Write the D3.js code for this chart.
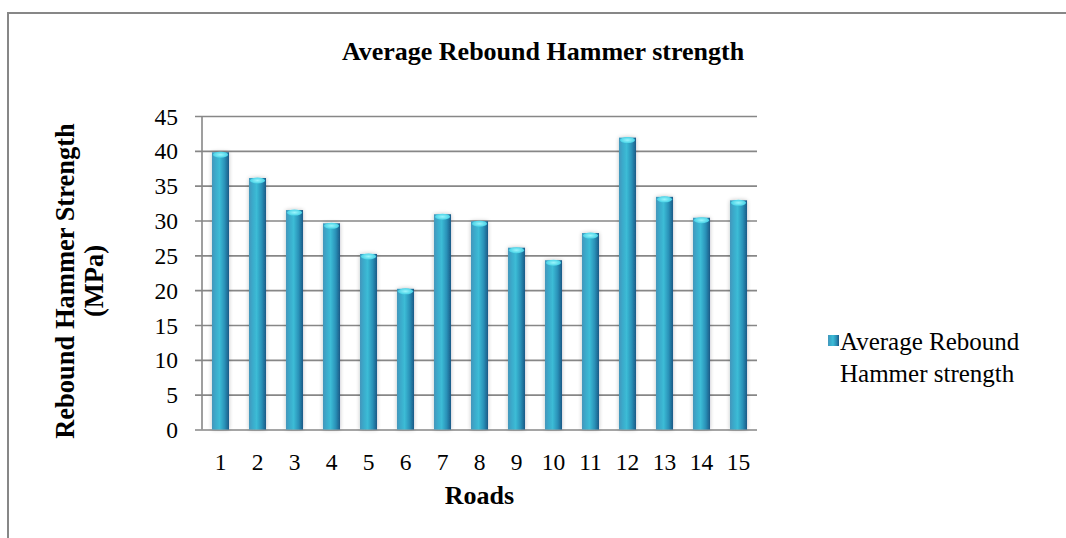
<!DOCTYPE html>
<html><head><meta charset="utf-8">
<script src="https://cdn.jsdelivr.net/npm/d3@7"></script>
<style>
body{margin:0;background:#fff}
svg text{font-family:"Liberation Serif","Times New Roman",serif;fill:#000}
</style>
</head><body>
<svg id="c" width="1066" height="538"></svg>
<script>
const categories = ["1","2","3","4","5","6","7","8","9","10","11","12","13","14","15"];
const values = [39.8,36.1,31.5,29.6,25.2,20.2,30.9,29.9,26.1,24.3,28.2,41.9,33.4,30.4,32.9];
const yTicks = [0,5,10,15,20,25,30,35,40,45];
const seriesName = "Average Rebound Hammer strength";
const chartTitle = "Average Rebound Hammer strength";
const xTitle = "Roads";
const yTitleLines = ["Rebound Hammer Strength","(MPa)"];
const legendLines = ["Average Rebound","Hammer strength"];

const svg = d3.select("#c");
const L = 202, R = 757, T = 116, B = 429.5;

svg.append("path").attr("d","M8,538V13H1066").attr("fill","none").attr("stroke","#878787").attr("stroke-width",2);

const defs = svg.append("defs");
const g1 = defs.append("linearGradient").attr("id","barG").attr("x1","0").attr("x2","1").attr("y1","0").attr("y2","0");
[["0%","#4596bb"],["20%","#3aa9ca"],["45%","#3cbcd6"],["75%","#2a90b7"],["100%","#1a5a86"]].forEach(s=>g1.append("stop").attr("offset",s[0]).attr("stop-color",s[1]));
const g2 = defs.append("radialGradient").attr("id","capG");
[["0%","#9af5fc"],["100%","#48d2e6"]].forEach(s=>g2.append("stop").attr("offset",s[0]).attr("stop-color",s[1]));
const f = defs.append("filter").attr("id","sh").attr("x","-50%").attr("y","-10%").attr("width","200%").attr("height","120%");
f.append("feGaussianBlur").attr("in","SourceAlpha").attr("stdDeviation",2).attr("result","b");
f.append("feComponentTransfer").attr("in","b").attr("result","o2").append("feFuncA").attr("type","linear").attr("slope",0.25);
const fm = f.append("feMerge"); fm.append("feMergeNode").attr("in","o2"); fm.append("feMergeNode").attr("in","SourceGraphic");

const x = d3.scaleBand().domain(categories).range([L,R]).paddingInner(0.54).paddingOuter(0.27);
const y = d3.scaleLinear().domain([0,45]).range([B,T]);

const ya = svg.append("g").attr("transform",`translate(${L},0)`)
  .call(d3.axisLeft(y).tickValues(yTicks).tickSize(-(R-L)).tickPadding(24).tickFormat(d3.format("d")));
ya.select(".domain").remove();
ya.selectAll(".tick line").attr("stroke","#878787").attr("stroke-width",1.6).attr("x1",-7);
ya.selectAll(".tick text").attr("font-size",23.5).attr("font-family","Liberation Serif").attr("fill","#000").attr("dy","0.34em");
svg.append("line").attr("x1",L).attr("x2",L).attr("y1",T).attr("y2",B).attr("stroke","#878787").attr("stroke-width",1.6);

const bars = svg.append("g").attr("filter","url(#sh)");
const bw = x.bandwidth();
bars.selectAll("rect").data(values).join("rect")
  .attr("x",(d,i)=>x(categories[i])).attr("width",bw)
  .attr("y",d=>y(d)).attr("height",d=>B-y(d))
  .attr("fill","url(#barG)");
bars.selectAll("ellipse").data(values).join("ellipse")
  .attr("cx",(d,i)=>x(categories[i])+bw/2).attr("cy",d=>y(d)+2.5)
  .attr("rx",bw/2-1).attr("ry",3).attr("fill","url(#capG)");

const xa = svg.append("g").attr("transform",`translate(0,${B})`).call(d3.axisBottom(x).tickSize(0).tickPadding(24));
xa.select(".domain").remove();
xa.selectAll(".tick text").attr("font-size",23.5).attr("font-family","Liberation Serif").attr("fill","#000").attr("dy","0.71em");

svg.append("text").attr("x",543).attr("y",60).attr("text-anchor","middle").attr("font-weight","bold").attr("font-size",26).text(chartTitle);
svg.append("text").attr("x",(L+R)/2).attr("y",504).attr("text-anchor","middle").attr("font-weight","bold").attr("font-size",26).text(xTitle);
const yt = svg.append("text").attr("transform","translate(74,281) rotate(-90)").attr("text-anchor","middle").attr("font-weight","bold").attr("font-size",26.5);
yt.selectAll("tspan").data(yTitleLines).join("tspan").attr("x",0).attr("dy",(d,i)=>i?"1.1em":0).text(d=>d);

const lg = svg.append("g").attr("transform","translate(828,350)");
lg.append("rect").attr("x",0).attr("y",-15).attr("width",11).attr("height",11).attr("fill","url(#barG)");
lg.append("text").attr("x",12).attr("y",0).attr("font-size",25).text(legendLines[0]);
lg.append("text").attr("x",12).attr("y",32).attr("font-size",25).text(legendLines[1]);
</script>
</body></html>
